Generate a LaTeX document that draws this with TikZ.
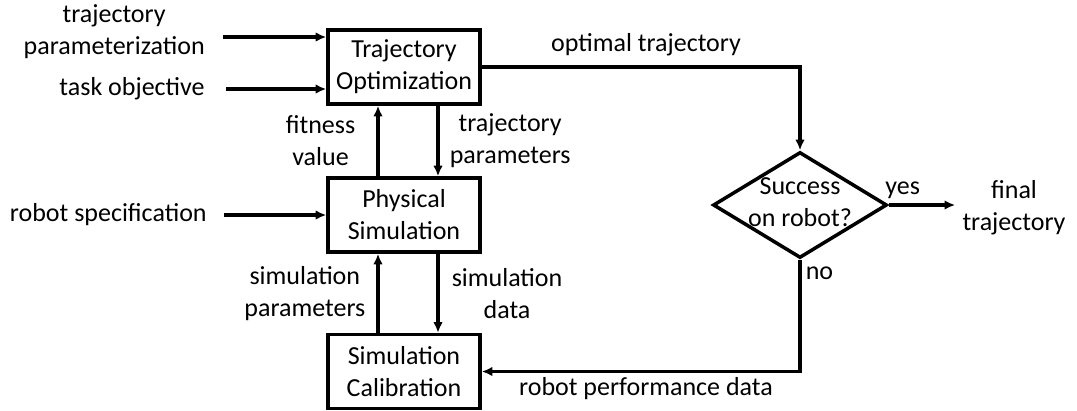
\documentclass[tikz,border=0pt]{standalone}
\usepackage{fontspec}
\setmainfont{Carlito}
\usetikzlibrary{shapes.geometric,arrows.meta,positioning}
\begin{document}
\begin{tikzpicture}[x=0.02cm,y=-0.02cm,font=\fontsize{14.8}{18.2}\selectfont]
        \tikzset{block/.style={draw,line width=2pt,minimum width=3.04cm,minimum height=1.48cm,align=center,inner sep=1pt},
            decision/.style={diamond,draw,line width=2pt,minimum width=3.48cm,minimum height=2.12cm,inner sep=0pt},
            flow/.style={line width=2pt,-{Latex[length=6pt,width=5.4pt]}},
            note/.style={align=center,inner sep=0pt}}
        \useasboundingbox (0,0) rectangle (1077,410);
        \node[block] (opt) at (404,67) {Trajectory\\Optimization};
        \node[block] (phys) at (404,215) {Physical\\Simulation};
        \node[block] (calib) at (404,371.5) {Simulation\\Calibration};
        \node[decision] (succ) at (800,205) {};
        \node[note] (succtext) at ([shift={(0,-3)}]succ.center) {Success\\on robot?};
        \node[note,anchor=east] (param) at (205,32) {trajectory\\parameterization};
        \node[note,anchor=east] (task) at (205,89) {task objective};
        \node[note,anchor=east] (spec) at (207,215) {robot specification};
        \node[note] (final) at (1014,208) {final\\trajectory};
        \foreach \src/\dst/\a/\b in {param/opt/{18,5}/{0,-30},task/opt/{21,0}/{0,22},spec/phys/{17,0}/{0,0}}
            \draw[flow] ([shift={(\a)}]\src.east) -- ([shift={(\b)}]\dst.west);
        \draw[flow] ([shift={(-26,0)}]phys.north) -- node[note,left=0.42cm]{fitness\\value} ([shift={(-26,0)}]opt.south);
        \draw[flow] ([shift={(34,0)}]opt.south) -- node[note,right=0.2cm]{trajectory\\parameters} ([shift={(34,0)}]phys.north);
        \draw[flow] ([shift={(-26,0)}]calib.north) -- node[note,left=0.22cm]{simulation\\parameters} ([shift={(-26,0)}]phys.south);
        \draw[flow] ([shift={(34,0)}]phys.south) -- node[note,right=0.24cm]{simulation\\data} ([shift={(34,0)}]calib.north);
        \draw[flow] (opt.east) -| node[note,pos=0.258,above=0.18cm]{optimal trajectory} (succ.north);
        \draw[flow,shorten >=0.14cm] (succ.east) -- node[note,pos=0.19,above=0.1cm]{yes} (succ.east -| final.west);
        \draw[flow] (succ.south) |- node[note,pos=0.06,right=0.08cm]{no}
            node[note,pos=0.742,below=0.08cm]{robot performance data} (calib.east);
    \end{tikzpicture}
\end{document}
